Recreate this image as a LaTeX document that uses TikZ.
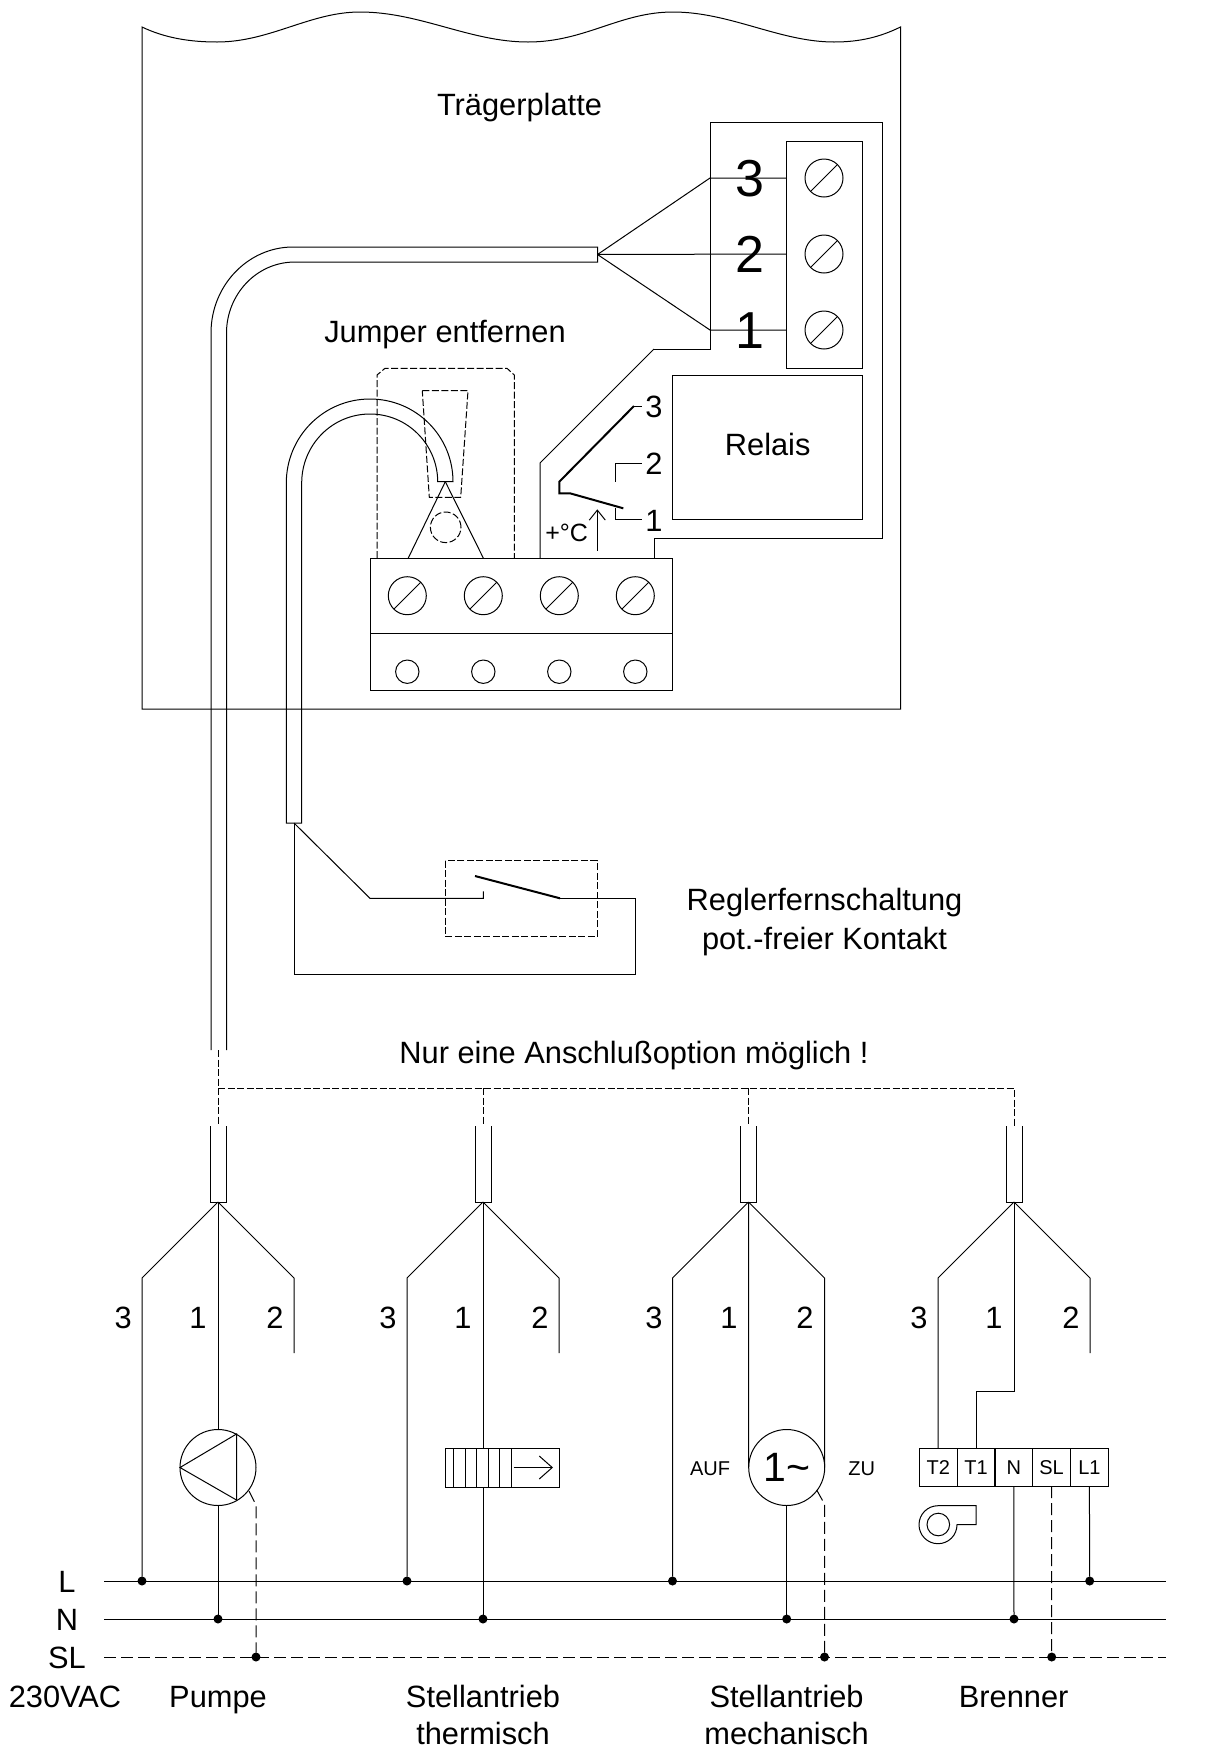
\documentclass[tikz,border=0pt]{standalone}
\usepackage{fontspec}
\setmainfont{Liberation Sans}
\usepackage{tikz}
\usetikzlibrary{positioning, arrows.meta}

\begin{document}
\begin{tikzpicture}[x=1pt, y=-1pt, line width=1pt, node distance=76pt,
  label node/.style={font=\fontsize{30.8}{36}\selectfont, inner sep=0pt, text height=22pt, text depth=0pt},
  big node/.style={font=\fontsize{52}{60}\selectfont, inner sep=0pt, text height=37pt, text depth=0pt},
  small node/.style={font=\fontsize{20}{24}\selectfont, inner sep=0pt, text height=14.5pt, text depth=0pt},
  screw node/.style={circle, draw, inner sep=0pt, outer sep=0pt, minimum size=38pt, path picture={\draw (path picture bounding box.south west) -- (path picture bounding box.north east);}},
  hole node/.style={circle, draw, inner sep=0pt, outer sep=0pt, minimum size=23.4pt},
  dot node/.style={circle, fill=black, inner sep=0pt, outer sep=0pt, minimum size=9pt},
  cell node/.style={draw, small node, outer sep=0pt, minimum width=38pt, minimum height=38pt, node distance=37.8pt},
  fine dash/.style={dash pattern=on 7pt off 2.5pt},
  long dash/.style={dash pattern=on 12pt off 5pt},
  contact/.style={line width=2pt}]

\useasboundingbox (0,0) rectangle (1205,1749);

\draw (142,709) -- (142,27) .. controls (165,38) and (190,42) .. (217,42)
  .. controls (270,42) and (310,12) .. (360,12) .. controls (420,12) and (470,42) .. (528,42)
  .. controls (585,42) and (620,12) .. (673,12) .. controls (730,12) and (780,42) .. (834,42)
  .. controls (860,42) and (880,37) .. (900.5,27) -- (900.5,709) -- cycle;

\node[label node] (plate) at (519.5,104) {Trägerplatte};
\node[label node] (jumper) at (445,331) {Jumper entfernen};
\node[label node] (remote) at (824.5,899) {Reglerfernschaltung};
\node[label node] (remote2) at (824.5,938) {pot.-freier Kontakt};
\node[label node] (option) at (634,1052) {Nur eine Anschlußoption möglich !};

\draw (654,349) -- (710,349) -- (710,122) -- (882,122) -- (882,538.7) -- (654,538.7) -- (654,558);
\draw (654,349) -- (540,463) -- (540,558);

\draw (786,141) rectangle (862,368);
\node[screw node] (sTop) at (824,178) {};
\node[screw node] (sMid) at (824,254) {};
\node[screw node] (sLow) at (824,330) {};
\node[big node] (numC) at (750,178) {3};
\node[big node] (numB) at (750,254) {2};
\node[big node] (numA) at (750,330) {1};

\coordinate (tubeTip) at (597.5,254.5);
\coordinate (kneeC) at (710,178);
\coordinate (kneeA) at (710,330);
\draw (tubeTip) -- (kneeC) -- (786,178);
\draw (tubeTip) -- (786,254);
\draw (tubeTip) -- (kneeA) -- (786,330);

\draw (211,1050) -- (211,333) .. controls (211,285.5) and (248,247) .. (293,247) -- (597.5,247) -- (597.5,262) -- (295,262)
  .. controls (256,262) and (226.5,295) .. (226.5,333) -- (226.5,1050);

\draw (286.3,823) -- (286.3,483) .. controls (286.3,436.6) and (323.6,399) .. (370,399)
  .. controls (416,399) and (453,436) .. (453,481.7) -- (437.7,481.7)
  .. controls (437.7,445) and (408,414) .. (370,414) .. controls (332,414) and (301.7,445) .. (301.7,483)
  -- (301.7,823) -- cycle;

\draw[fine dash] (377,558) -- (377,375) -- (385,368.3) -- (507,368.3) -- (514.3,375) -- (514.3,558);
\draw[fine dash] (422.3,390.7) -- (468,390.7) -- (460.7,497.3) -- (429.3,497.3) -- cycle;
\draw (445.3,481.7) -- (408.3,558);
\draw (445.3,481.7) -- (483.3,558);
\node[hole node, fine dash, minimum size=30.6pt] (jumperHole) at (445.7,527.3) {};

\draw (370,558) rectangle (672.7,690.7);
\draw (370,633.7) -- (672.7,633.7);
\node[screw node] (scA) at (407.3,595.7) {};
\node[screw node] (scB) [right of=scA] {};
\node[screw node] (scC) [right of=scB] {};
\node[screw node] (scD) [right of=scC] {};
\node[hole node] (hoA) at (407.3,671.7) {};
\node[hole node] (hoB) [right of=hoA] {};
\node[hole node] (hoC) [right of=hoB] {};
\node[hole node] (hoD) [right of=hoC] {};

\node[draw, outer sep=0pt, minimum width=189.6pt, minimum height=144pt] (relay) at (767.5,447.3) {};
\node[label node] (relayText) at (767.7,444.3) {Relais};

\node[label node] (cC) at (654,406.7) {3};
\node[label node] (cB) at (654,463.7) {2};
\node[label node] (cA) at (654,520) {1};
\draw (641.7,406) -- (634,406);
\draw[contact] (634,406) -- (559.3,481.7) -- (559.3,493.3) -- (570,493.3) -- (623.3,508.3);
\draw (641.7,463.3) -- (615.7,463.3) -- (615.7,481.7);
\draw (641.7,519.3) -- (615.7,519.3) -- (615.7,508.3);
\node[label node, font=\fontsize{25}{30}\selectfont, text height=18pt] (temp) at (566.7,532) {+°C};
\draw[-{Straight Barb[length=10pt,width=16pt]}] (597.3,550.7) -- (597.3,509.3);

\coordinate (remTip) at (294,823);
\coordinate (remKnee) at (370,898.3);
\coordinate (remFix) at (483.3,898.3);
\coordinate (remPin) at (483.3,891.3);
\coordinate (remBlade) at (475,876);
\coordinate (remMove) at (560,898.3);
\coordinate (remOut) at (635,898.3);
\coordinate (remLow) at (635,974.3);
\coordinate (remBack) at (294,974.3);
\draw (remTip) -- (remKnee) -- (remFix) -- (remPin);
\draw (remMove) -- (remOut) -- (remLow) -- (remBack) -- (remTip);
\draw[contact] (remBlade) -- (remMove);
\draw[fine dash] (445.3,860.7) rectangle (597.3,936.7);

\coordinate (drop0) at (218,1050);
\coordinate (dropA) at (218,1126);
\coordinate (dropB) at (483,1126);
\coordinate (dropC) at (748.5,1126);
\coordinate (dropD) at (1014,1126);
\coordinate (railA) at (218,1088);
\coordinate (railB) at (483,1088);
\coordinate (railC) at (748.5,1088);
\coordinate (railD) at (1014,1088);
\draw[fine dash] (drop0) -- (dropA);
\draw[fine dash] (railA) -- (railD) -- (dropD);
\draw[fine dash] (railB) -- (dropB);
\draw[fine dash] (railC) -- (dropC);

\coordinate (tipA) at (218,1202);
\coordinate (tipB) at (483,1202);
\coordinate (tipC) at (748.5,1202);
\coordinate (tipD) at (1014,1202);
\draw (210,1126) -- (210,1202) -- (226,1202) -- (226,1126);
\draw (475,1126) -- (475,1202) -- (491,1202) -- (491,1126);
\draw (740.5,1126) -- (740.5,1202) -- (756.5,1202) -- (756.5,1126);
\draw (1006,1126) -- (1006,1202) -- (1022,1202) -- (1022,1126);

\coordinate (lineLa) at (104,1581);
\coordinate (lineLb) at (1166,1581);
\coordinate (lineNa) at (104,1619);
\coordinate (lineNb) at (1166,1619);
\coordinate (lineSa) at (104,1657);
\coordinate (lineSb) at (1166,1657);
\draw (lineLa) -- (lineLb);
\draw (lineNa) -- (lineNb);
\draw[long dash] (lineSa) -- (lineSb);

\node[dot node] (dLA) at (142,1581) {};
\node[dot node] (dNA) at (218,1619) {};
\node[dot node] (dSA) at (256,1657) {};
\node[dot node] (dLB) at (407,1581) {};
\node[dot node] (dNB) at (483,1619) {};
\node[dot node] (dLC) at (672.5,1581) {};
\node[dot node] (dNC) at (786.7,1619) {};
\node[dot node] (dSC) at (824.5,1657) {};
\node[dot node] (dLD) at (1089.7,1581) {};
\node[dot node] (dND) at (1014,1619) {};
\node[dot node] (dSD) at (1051.7,1657) {};

\node[draw, circle, inner sep=0pt, outer sep=0pt, minimum size=76pt] (pump) at (218,1467.5) {};
\draw (180,1467.5) -- (236.5,1434) -- (236.5,1500) -- cycle;
\coordinate (kneeA3) at (142,1278);
\coordinate (kneeA2) at (294,1278);
\coordinate (pumpOut) at (249,1491);
\coordinate (pumpDash) at (256,1505);
\draw (tipA) -- (kneeA3) -- (dLA);
\draw (tipA) -- (kneeA2) -- (294,1353);
\draw (tipA) -- (pump);
\draw (pump) -- (dNA);
\draw[long dash] (pumpOut) -- (pumpDash) -- (dSA);

\node[draw, outer sep=0pt, minimum width=114pt, minimum height=39pt] (drive) at (502.5,1467.5) {};
\draw (453.5,1448) -- (453.5,1487) (465,1448) -- (465,1487) (476,1448) -- (476,1487);
\draw (488,1448) -- (488,1487) (499.5,1448) -- (499.5,1487) (511,1448) -- (511,1487);
\draw[-{Straight Barb[length=13pt,width=23pt]}] (513.6,1467.5) -- (553,1467.5);
\coordinate (kneeB3) at (407,1278);
\coordinate (kneeB2) at (559,1278);
\draw (tipB) -- (kneeB3) -- (dLB);
\draw (tipB) -- (kneeB2) -- (559,1353);
\draw (tipB) -- (483,1448);
\draw (483,1487) -- (dNB);

\node[draw, circle, inner sep=0pt, outer sep=0pt, minimum size=76pt, font=\fontsize{41}{48}\selectfont] (motor) at (786.7,1467.5) {1\textasciitilde};
\node[small node] (open) at (710,1468) {AUF};
\node[small node] (close) at (861.7,1468) {ZU};
\coordinate (kneeC3) at (672.5,1278);
\coordinate (kneeC2) at (824.5,1278);
\coordinate (motorOut) at (816.7,1490);
\coordinate (motorDash) at (824.5,1504);
\draw (tipC) -- (kneeC3) -- (dLC);
\draw (tipC) -- (kneeC2) -- (motor.east);
\draw (tipC) -- (motor.west);
\draw (motor) -- (dNC);
\draw[long dash] (motorOut) -- (motorDash) -- (dSC);

\node[cell node] (tT) at (938.2,1467.2) {T2};
\node[cell node] (tU) [right of=tT] {T1};
\node[cell node] (tN) [right of=tU] {N};
\node[cell node] (tS) [right of=tN] {SL};
\node[cell node] (tL) [right of=tS] {L1};
\coordinate (kneeD3) at (938,1278);
\coordinate (kneeD2) at (1090,1278);
\coordinate (kneeD1) at (1014,1391.7);
\coordinate (kneeD0) at (976,1391.7);
\draw (tipD) -- (kneeD3) -- (tT.north);
\draw (tipD) -- (kneeD2) -- (1090,1353);
\draw (tipD) -- (kneeD1) -- (kneeD0) -- (976,1448.2);
\draw (tN.south) -- (dND);
\draw[long dash] (tS.south) -- (dSD);
\draw (tL.south) -- (dLD);
\node[hole node, minimum size=22.6pt] (fan) at (938.3,1524.5) {};
\draw (976,1505.7) -- (938,1505.7) .. controls (927.5,1505.7) and (919,1514.2) .. (919,1524.7)
  .. controls (919,1535.2) and (927.5,1543.7) .. (938,1543.7) .. controls (948.5,1543.7) and (957,1535.2) .. (957,1524.7)
  -- (976,1524.7) -- cycle;

\node[label node] (numA3) at (123.3,1317) {3};
\node[label node] (numA1) at (198,1317) {1};
\node[label node] (numA2) at (275,1317) {2};
\node[label node] (numB3) at (388,1317) {3};
\node[label node] (numB1) at (463,1317) {1};
\node[label node] (numB2) at (540,1317) {2};
\node[label node] (numC3) at (654,1317) {3};
\node[label node] (numC1) at (729,1317) {1};
\node[label node] (numC2) at (805,1317) {2};
\node[label node] (numD3) at (919,1317) {3};
\node[label node] (numD1) at (994,1317) {1};
\node[label node] (numD2) at (1071,1317) {2};

\node[label node] (nameL) at (67,1581) {L};
\node[label node] (nameN) at (67,1619) {N};
\node[label node] (nameS) at (67,1657) {SL};
\node[label node] (volt) at (65,1696) {230VAC};
\node[label node] (namePump) at (218,1696) {Pumpe};
\node[label node] (nameTher) at (483,1696) {Stellantrieb};
\node[label node] (nameTher2) at (483,1733) {thermisch};
\node[label node] (nameMech) at (786.6,1696) {Stellantrieb};
\node[label node] (nameMech2) at (786.6,1733) {mechanisch};
\node[label node] (nameBurn) at (1013.7,1696) {Brenner};

\end{tikzpicture}
\end{document}
